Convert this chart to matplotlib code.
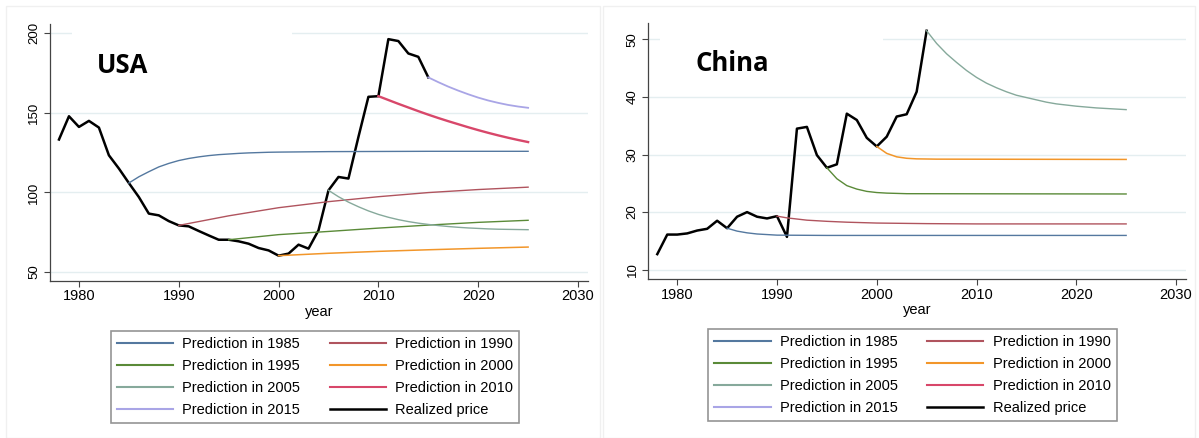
import matplotlib
matplotlib.use("Agg")
import matplotlib.pyplot as plt
from matplotlib.lines import Line2D
from matplotlib.patches import Rectangle

plt.rcParams['font.family'] = ['Liberation Sans', 'DejaVu Sans']

# ---- USA data ----
usa_years = list(range(1978, 2016))
usa_price = [133.2, 147.8, 141.1, 144.9, 140.7, 123.3, 115.0, 105.9, 97.1, 86.7,
             85.6, 82.0, 79.3, 78.7, 75.8, 73.0, 70.3, 70.3, 69.3, 67.8,
             65.1, 63.6, 60.3, 61.6, 67.2, 64.7, 76.2, 101.3, 109.7, 108.7,
             134.8, 160.0, 160.4, 196.2, 195.0, 187.2, 185.1, 172.2]

usa_p1985_x = [1985, 1986, 1987, 1988, 1989, 1990, 1991, 1992, 1993, 1994, 1995,
               1996, 1997, 1998, 1999, 2000, 2005, 2010, 2015, 2020, 2025]
usa_p1985_y = [105.9, 109.8, 113.0, 116.0, 118.2, 120.0, 121.3, 122.3, 123.1, 123.7, 124.1,
               124.5, 124.8, 125.0, 125.2, 125.3, 125.6, 125.7, 125.8, 125.8, 125.8]
usa_p1990_x = [1990, 1995, 2000, 2005, 2010, 2015, 2020, 2025]
usa_p1990_y = [79.3, 85.3, 90.4, 94.2, 97.3, 99.9, 101.8, 103.3]
usa_p1995_x = [1995, 2000, 2005, 2010, 2015, 2020, 2025]
usa_p1995_y = [70.3, 73.5, 75.5, 77.6, 79.5, 81.2, 82.5]
usa_p2000_x = [2000, 2005, 2010, 2015, 2020, 2025]
usa_p2000_y = [60.3, 61.8, 63.0, 64.0, 64.9, 65.7]
usa_p2005_x = list(range(2005, 2026))
usa_p2005_y = [101.3, 97.3, 93.9, 91.0, 88.4, 86.2, 84.4, 82.9, 81.7, 80.7, 79.9,
               79.2, 78.6, 78.1, 77.7, 77.4, 77.1, 76.9, 76.8, 76.7, 76.6]
usa_p2010_x = list(range(2010, 2026))
usa_p2010_y = [160.4, 158.0, 155.6, 153.3, 151.0, 148.8, 146.7, 144.7, 142.8, 140.9,
               139.1, 137.4, 135.8, 134.3, 132.9, 131.6]
usa_p2015_x = list(range(2015, 2026))
usa_p2015_y = [172.2, 169.2, 166.4, 163.9, 161.6, 159.5, 157.7, 156.2, 154.9, 153.9, 153.1]

# ---- China data ----
chn_years = list(range(1978, 2006))
chn_price = [12.7, 16.1, 16.1, 16.3, 16.8, 17.1, 18.5, 17.2, 19.2, 20.0,
             19.2, 18.9, 19.3, 15.7, 34.5, 34.8, 29.9, 27.7, 28.3, 37.1,
             36.0, 32.9, 31.4, 33.1, 36.6, 37.0, 40.9, 51.5]

chn_p1985_x = [1985, 1986, 1987, 1988, 1989, 1990, 1995, 2025]
chn_p1985_y = [17.2, 16.7, 16.4, 16.2, 16.1, 16.0, 15.95, 15.95]
chn_p1990_x = [1990, 1991, 1992, 1993, 1994, 1995, 1997, 2000, 2005, 2010, 2025]
chn_p1990_y = [19.3, 19.0, 18.8, 18.6, 18.5, 18.4, 18.25, 18.1, 18.0, 17.95, 17.95]
chn_p1995_x = [1995, 1996, 1997, 1998, 1999, 2000, 2001, 2003, 2025]
chn_p1995_y = [27.7, 25.8, 24.6, 24.0, 23.6, 23.4, 23.3, 23.2, 23.15]
chn_p2000_x = [2000, 2001, 2002, 2003, 2004, 2006, 2025]
chn_p2000_y = [31.4, 30.2, 29.6, 29.35, 29.25, 29.2, 29.15]
chn_p2005_x = list(range(2005, 2021)) + [2022, 2025]
chn_p2005_y = [51.5, 49.3, 47.5, 46.0, 44.6, 43.4, 42.4, 41.6, 40.9, 40.3, 39.9,
               39.5, 39.1, 38.8, 38.6, 38.4, 38.1, 37.8]

pred_labels = ['Prediction in 1985', 'Prediction in 1990', 'Prediction in 1995',
               'Prediction in 2000', 'Prediction in 2005', 'Prediction in 2010',
               'Prediction in 2015']
pred_colors = ['#54789f', '#b0545e', '#5a8a38', '#f2962a', '#86a99b', '#d8476a', '#a9a5e6']
pred_widths = [1.0, 1.0, 1.0, 1.1, 1.0, 1.7, 1.3]

usa_preds = [(usa_p1985_x, usa_p1985_y), (usa_p1990_x, usa_p1990_y),
             (usa_p1995_x, usa_p1995_y), (usa_p2000_x, usa_p2000_y),
             (usa_p2005_x, usa_p2005_y), (usa_p2010_x, usa_p2010_y),
             (usa_p2015_x, usa_p2015_y)]
chn_preds = [(chn_p1985_x, chn_p1985_y), (chn_p1990_x, chn_p1990_y),
             (chn_p1995_x, chn_p1995_y), (chn_p2000_x, chn_p2000_y),
             (chn_p2005_x, chn_p2005_y), None, None]

fig = plt.figure(figsize=(11.99, 4.38), dpi=100)
W, H = 1199, 438

# faint panel frames
for x0, x1 in [(6, 600), (603, 1195)]:
    fig.patches.append(Rectangle((x0 / W, 0), (x1 - x0) / W, 1 - 6 / H,
                                 transform=fig.transFigure, fill=False,
                                 edgecolor='#f0f0f0', linewidth=1))


def draw_panel(rect, years, price, preds, ylim, yticks, title, box):
    ax = fig.add_axes(rect)
    for (xy, c, lw) in zip(preds, pred_colors, pred_widths):
        if xy is not None:
            ax.plot(xy[0], xy[1], color=c, lw=lw, zorder=3)
    ax.plot(years, price, color='black', lw=1.8, zorder=2)
    ax.set_xlim(1977.1, 2031.0)
    ax.set_ylim(*ylim)
    ax.set_xticks([1980, 1990, 2000, 2010, 2020, 2030])
    ax.set_yticks(yticks)
    ax.grid(axis='y', color='#e4eef0', lw=1)
    ax.set_axisbelow(True)
    for s in ['top', 'right']:
        ax.spines[s].set_visible(False)
    for s in ['left', 'bottom']:
        ax.spines[s].set_color('#444444')
        ax.spines[s].set_linewidth(0.9)
    ax.tick_params(axis='x', length=4, width=0.8, color='#444444', labelsize=10.5, pad=2)
    ax.tick_params(axis='y', length=4, width=0.8, color='#444444', labelsize=9.5, pad=3,
                   labelrotation=90)
    for t in ax.get_yticklabels():
        t.set_va('center')
    ax.set_xlabel('year', fontsize=10.5, labelpad=1)
    # white box behind the country label (covers the top gridline)
    ax.add_patch(Rectangle(box[0], box[1], box[2], transform=ax.transAxes,
                           facecolor='white', edgecolor='none', zorder=1.5))
    ax.text(0.087, 0.84, title, transform=ax.transAxes, fontsize=18.5,
            fontweight='bold', family='Open Sans', va='center', ha='left', zorder=5)
    return ax


ax1 = draw_panel([50 / W, 1 - 281 / H, 538 / W, 257 / H], usa_years, usa_price,
                 usa_preds, (44.4, 205.7), [50, 100, 150, 200], 'USA',
                 ((0.04, 0.72), 0.41, 0.25))
ax2 = draw_panel([648.3 / W, 1 - 279.3 / H, 537.7 / W, 256.6 / H], chn_years, chn_price,
                 chn_preds, (8.33, 52.9), [10, 20, 30, 40, 50], 'China',
                 ((0.022, 0.72), 0.415, 0.25))

# legends (row-wise order like the original)
handles = [Line2D([], [], color=c, lw=1.5) for c in pred_colors]
handles.append(Line2D([], [], color='black', lw=1.8))
labels = pred_labels + ['Realized price']
order = [0, 2, 4, 6, 1, 3, 5, 7]
for left, top in [(110.7, 331), (708.3, 329)]:
    leg = fig.legend([handles[i] for i in order], [labels[i] for i in order],
                     ncol=2, loc='upper left', bbox_to_anchor=(left / W, 1 - top / H),
                     fontsize=10.5, frameon=True, fancybox=False, edgecolor='#7a7a7a',
                     handlelength=3.85, handletextpad=0.65, columnspacing=2.0,
                     labelspacing=0.55, borderpad=0.42, borderaxespad=0)
    leg.get_frame().set_linewidth(1.2)

fig.savefig('out.png', dpi=100)
